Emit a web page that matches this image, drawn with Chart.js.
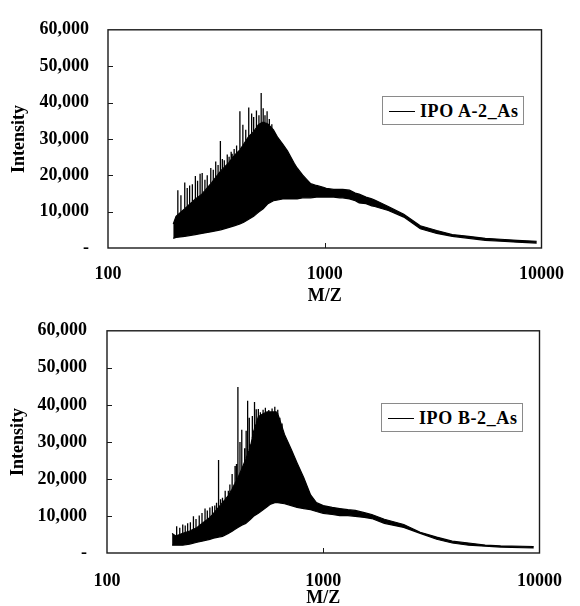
<!DOCTYPE html>
<html><head><meta charset="utf-8">
<script src="https://cdn.jsdelivr.net/npm/chart.js@4.4.1/dist/chart.umd.min.js"></script>
<style>
html,body{margin:0;padding:0;background:#fff;overflow:hidden;width:580px;height:606px;}
.wrap{position:absolute;left:0;width:580px;height:310px;}
canvas{display:block;}
.legend{position:absolute;border:1px solid #8a8a8a;background:#fff;box-sizing:border-box;font:bold 18px "Liberation Serif","Times New Roman",serif;color:#000;white-space:nowrap;}
.legend .ln{position:absolute;left:6px;top:50%;width:26px;height:0;border-top:1.5px solid #000;}
.legend .tx{position:absolute;left:37px;top:50%;transform:translateY(-50%);line-height:1;letter-spacing:0.6px;}
</style></head><body>
<div class="wrap" style="top:0"><canvas id="c1" width="580" height="310"></canvas></div>
<div class="wrap" style="top:300px"><canvas id="c2" width="580" height="310"></canvas></div>
<div class="legend" id="lg1" style="left:382px;top:96px;width:142px;height:29px"><span class="ln"></span><span class="tx"></span></div>
<div class="legend" id="lg2" style="left:381px;top:403px;width:142px;height:29px"><span class="ln"></span><span class="tx"></span></div>
<script>
// ---- axis ticks ----
const xTicks = [100, 1000, 10000];
const yTicks = [0, 10000, 20000, 30000, 40000, 50000, 60000];
const xTitle = 'M/Z';
const yTitle = 'Intensity';

// ---- top panel: IPO A-2_As ----
const topLabel = 'IPO A-2_As';
const topMz = [200, 206, 226, 253, 271, 301, 331, 359, 382, 406, 423, 446, 470, 494, 520, 547, 580, 607, 640, 673, 723, 746, 790, 827, 861, 916, 985, 1016, 1100, 1173, 1210, 1300, 1383, 1441, 1550, 1648, 1700, 1964, 2316, 2759, 3287, 3876, 4617, 5502, 6488, 7729, 9500];
const topUpper = [6600, 8700, 10800, 13500, 14800, 18000, 21200, 23300, 25400, 27000, 28600, 30700, 32000, 33900, 34700, 34100, 32500, 30400, 28600, 26700, 23300, 22000, 20100, 18800, 17700, 17200, 16700, 16400, 16100, 16100, 16100, 15900, 15100, 14800, 14000, 13500, 13200, 11400, 9300, 6100, 4800, 3700, 3200, 2650, 2400, 2100, 1850];
const topLower = [2650, 2900, 3200, 3700, 4000, 4500, 5000, 5600, 6100, 6600, 7100, 7900, 8700, 9800, 10800, 12200, 13000, 13200, 13500, 13500, 13500, 13500, 13800, 13800, 13800, 14000, 14000, 14000, 14000, 13800, 13800, 13500, 13000, 12400, 12200, 11600, 11400, 10300, 8500, 5300, 4000, 3200, 2650, 2100, 1850, 1600, 1350];
const topSpikeMz = [210, 217, 226, 232, 238, 245, 253, 259, 266, 272, 280, 287, 298, 306, 314, 322, 330, 337, 344, 355, 362, 370, 374, 382, 392, 406, 419, 432, 446, 460, 470, 484, 497, 509, 520, 530, 542, 555, 570];
const topSpikeTop = [15900, 14500, 18000, 16500, 17200, 17500, 19800, 18500, 20400, 20600, 18800, 20000, 22000, 21500, 23800, 22800, 29400, 24500, 24100, 25700, 25100, 26500, 25900, 27200, 28200, 37600, 33900, 32500, 38600, 37000, 36000, 37800, 36500, 42600, 38400, 36500, 37600, 35500, 34000];
const topSpikeBase = [9000, 9800, 10800, 11400, 12000, 12800, 13500, 14000, 14400, 14800, 15800, 16500, 17700, 18300, 19500, 20200, 21100, 21600, 22200, 23000, 23500, 24200, 24700, 25400, 26000, 27000, 28200, 29500, 30700, 31400, 32000, 33200, 34000, 34400, 34700, 34600, 34200, 33800, 33000];

// ---- bottom panel: IPO B-2_As ----
const botLabel = 'IPO B-2_As';
const botMz = [200, 208, 224, 241, 261, 275, 299, 311, 328, 342, 364, 379, 391, 403, 420, 438, 461, 476, 501, 527, 550, 567, 597, 616, 662, 711, 757, 813, 874, 930, 1000, 1100, 1192, 1300, 1406, 1550, 1676, 1917, 2356, 2808, 3347, 3949, 4706, 5609, 6615, 9399];
const botUpper = [5300, 4600, 5300, 5900, 6900, 8000, 9600, 10700, 12300, 13600, 15500, 17300, 18900, 20300, 22700, 25300, 28800, 32800, 36800, 37600, 38100, 38100, 38100, 37600, 32000, 28000, 24300, 20300, 15700, 13600, 12800, 12300, 12000, 11700, 11500, 10900, 10400, 9100, 7700, 5600, 4300, 3200, 2700, 2150, 1900, 1750];
const botLower = [2100, 2100, 2100, 2400, 2900, 3200, 3700, 4000, 4300, 4500, 5300, 5900, 6400, 6900, 7500, 8000, 9100, 9900, 10700, 11700, 12500, 13100, 13600, 13600, 13300, 12800, 12300, 12000, 11700, 11200, 10700, 10400, 10100, 10100, 9900, 9600, 9300, 8000, 6900, 5300, 3700, 2700, 2100, 1850, 1600, 1350];
const botSpikeMz = [210, 217, 224, 230, 236, 243, 251, 258, 267, 275, 284, 291, 299, 307, 315, 321, 328, 335, 342, 352, 364, 370, 379, 391, 397, 403, 412, 420, 433, 440, 447, 455, 461, 470, 481, 490, 501, 512, 527, 540, 560, 580, 597, 605, 616, 630, 645];
const botSpikeTop = [7200, 6800, 7700, 7400, 8000, 8300, 9900, 9200, 10100, 10800, 12000, 11500, 12300, 12600, 12800, 13600, 25100, 14500, 14900, 16800, 16800, 18500, 21300, 23500, 24000, 44800, 30000, 33300, 28300, 33000, 41100, 36500, 29300, 37000, 40800, 38800, 38900, 38000, 38700, 39200, 38600, 39000, 39500, 38300, 38700, 36500, 35000];
const botSpikeBase = [4600, 5000, 5300, 5500, 5700, 6000, 6300, 6700, 7200, 8000, 8500, 9200, 9600, 10300, 11000, 11500, 12200, 13000, 13600, 14500, 15400, 16300, 17300, 18900, 19500, 20200, 21500, 22600, 24300, 25500, 26500, 27800, 28500, 31000, 33500, 35000, 36500, 37000, 37400, 37800, 38000, 38000, 37800, 37800, 37400, 35500, 33500];

const FONT = {family: '"Liberation Serif", "Times New Roman", serif', size: 18, weight: 'bold'};
const fmt = v => String(v).replace(/\B(?=(\d{3})+(?!\d))/g, ',');

const framePlugin = {
  id: 'frame',
  afterDraw(chart) {
    const {ctx, chartArea: a, scales: {x, y}} = chart;
    ctx.save();
    ctx.strokeStyle = '#1a1a1a';
    ctx.lineWidth = 1.4;
    ctx.strokeRect(a.left, a.top, a.right - a.left, a.bottom - a.top);
    ctx.lineWidth = 1;
    yTicks.forEach(v => {
      if (v > y.min && v < y.max) {
        const py = Math.round(y.getPixelForValue(v)) + 0.5;
        ctx.beginPath(); ctx.moveTo(a.left, py); ctx.lineTo(a.left + 5, py); ctx.stroke();
      }
    });
    xTicks.forEach(v => {
      if (v > x.min && v < x.max) {
        const px = Math.round(x.getPixelForValue(v)) + 0.5;
        ctx.beginPath(); ctx.moveTo(px, a.bottom); ctx.lineTo(px, a.bottom - 5); ctx.stroke();
      }
    });
    ctx.restore();
  }
};

function makeChart(id, mz, upper, lower, sMz, sTop, sBase, g) {
  const up = mz.map((m, i) => ({x: m, y: upper[i]}));
  const lo = mz.map((m, i) => ({x: m, y: lower[i]}));
  const sp = [];
  sMz.forEach((m, i) => { sp.push({x: m, y: sBase[i]}, {x: m, y: sTop[i]}, {x: m, y: null}); });
  return new Chart(document.getElementById(id), {
    type: 'line',
    data: {
      datasets: [
        {data: up, borderColor: '#000', backgroundColor: '#000', borderWidth: 1.2, pointRadius: 0, fill: '+1', tension: 0},
        {data: lo, borderColor: '#000', borderWidth: 1.2, pointRadius: 0, fill: false, tension: 0},
        {data: sp, borderColor: '#000', borderWidth: 1.3, pointRadius: 0, fill: false, spanGaps: false, tension: 0}
      ]
    },
    options: {
      responsive: false,
      animation: false,
      events: [],
      layout: {padding: {top: g.top, right: g.right, left: 0, bottom: 0}},
      plugins: {legend: {display: false}, tooltip: {enabled: false}},
      scales: {
        x: {
          type: 'logarithmic', min: 100, max: 10000,
          afterBuildTicks: s => { s.ticks = xTicks.map(v => ({value: v})); },
          ticks: {callback: v => String(v), padding: g.xPad, font: FONT, color: '#000', maxRotation: 0, autoSkip: false},
          grid: {display: false, drawTicks: false},
          border: {display: false},
          title: {display: true, text: xTitle, font: FONT, color: '#000', padding: {top: 0, bottom: g.xTitlePad}},
          afterFit: s => { s.height = g.xHeight; }
        },
        y: {
          type: 'linear', min: 0, max: 60000,
          afterBuildTicks: s => { s.ticks = yTicks.map(v => ({value: v})); },
          ticks: {callback: v => v === 0 ? '-' : fmt(v), padding: g.yPad, font: FONT, color: '#000'},
          grid: {display: false, drawTicks: false},
          border: {display: false},
          title: {display: true, text: yTitle, font: FONT, color: '#000', padding: {top: g.yTitlePad, bottom: 0}},
          afterFit: s => { s.width = g.left; }
        }
      }
    },
    plugins: [framePlugin]
  });
}

document.querySelector('#lg1 .tx').textContent = topLabel;
document.querySelector('#lg2 .tx').textContent = botLabel;

makeChart('c1', topMz, topUpper, topLower, topSpikeMz, topSpikeTop, topSpikeBase,
  {top: 21, right: 25, left: 108, xHeight: 62, xPad: 16, xTitlePad: 3, yPad: 19, yTitlePad: 9});
makeChart('c2', botMz, botUpper, botLower, botSpikeMz, botSpikeTop, botSpikeBase,
  {top: 28, right: 27, left: 107, xHeight: 57, xPad: 18, xTitlePad: 1, yPad: 20, yTitlePad: 8});
</script>
</body></html>
